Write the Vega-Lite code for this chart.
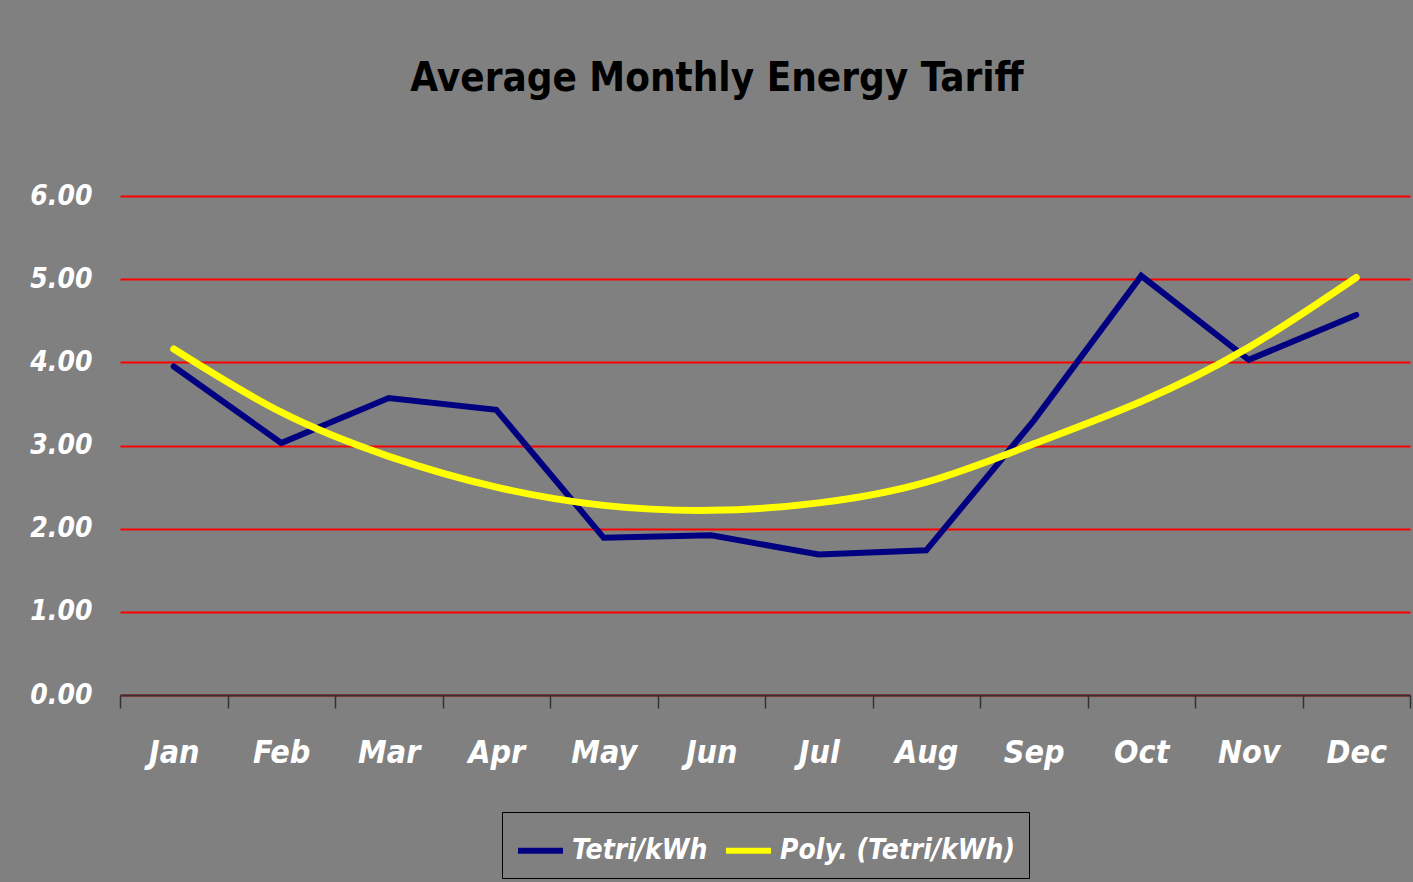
{
  "$schema": "https://vega.github.io/schema/vega-lite/v6.json",
  "width": 1290,
  "height": 499,
  "autosize": {"type": "none"},
  "padding": {"left": 120, "top": 196, "right": 3, "bottom": 187},
  "background": "#808080",
  "config": {
    "view": {"stroke": null},
    "font": "DejaVu Sans Condensed, Liberation Sans Narrow, sans-serif"
  },
  "title": {
    "text": "Average Monthly Energy Tariff",
    "font": "DejaVu Sans Condensed, Liberation Sans Narrow, sans-serif",
    "fontSize": 40,
    "fontWeight": "bold",
    "color": "#000000",
    "anchor": "middle",
    "dx": -48,
    "baseline": "alphabetic",
    "offset": 51
  },
  "data": {
    "values": [
      {"month": "Jan", "series": "Tetri/kWh", "value": 3.95},
      {"month": "Feb", "series": "Tetri/kWh", "value": 3.03},
      {"month": "Mar", "series": "Tetri/kWh", "value": 3.57},
      {"month": "Apr", "series": "Tetri/kWh", "value": 3.43},
      {"month": "May", "series": "Tetri/kWh", "value": 1.89},
      {"month": "Jun", "series": "Tetri/kWh", "value": 1.92},
      {"month": "Jul", "series": "Tetri/kWh", "value": 1.69},
      {"month": "Aug", "series": "Tetri/kWh", "value": 1.74},
      {"month": "Sep", "series": "Tetri/kWh", "value": 3.30},
      {"month": "Oct", "series": "Tetri/kWh", "value": 5.04},
      {"month": "Nov", "series": "Tetri/kWh", "value": 4.03},
      {"month": "Dec", "series": "Tetri/kWh", "value": 4.57},
      {"month": "Jan", "series": "Poly. (Tetri/kWh)", "value": 4.16},
      {"month": "Feb", "series": "Poly. (Tetri/kWh)", "value": 3.40},
      {"month": "Mar", "series": "Poly. (Tetri/kWh)", "value": 2.87},
      {"month": "Apr", "series": "Poly. (Tetri/kWh)", "value": 2.50},
      {"month": "May", "series": "Poly. (Tetri/kWh)", "value": 2.28},
      {"month": "Jun", "series": "Poly. (Tetri/kWh)", "value": 2.22},
      {"month": "Jul", "series": "Poly. (Tetri/kWh)", "value": 2.31},
      {"month": "Aug", "series": "Poly. (Tetri/kWh)", "value": 2.56},
      {"month": "Sep", "series": "Poly. (Tetri/kWh)", "value": 3.02},
      {"month": "Oct", "series": "Poly. (Tetri/kWh)", "value": 3.53},
      {"month": "Nov", "series": "Poly. (Tetri/kWh)", "value": 4.18},
      {"month": "Dec", "series": "Poly. (Tetri/kWh)", "value": 5.02}
    ]
  },
  "encoding": {
    "x": {
      "field": "month",
      "type": "ordinal",
      "sort": ["Jan", "Feb", "Mar", "Apr", "May", "Jun", "Jul", "Aug", "Sep", "Oct", "Nov", "Dec"],
      "scale": {"type": "band", "paddingInner": 0, "paddingOuter": 0},
      "bandPosition": 0.5,
      "axis": {
        "title": null,
        "labelAngle": 0,
        "tickBand": "extent",
        "domainColor": "#333333",
        "domainWidth": 2,
        "tickColor": "#333333",
        "tickWidth": 1.5,
        "tickSize": 13,
        "labelPadding": 29,
        "labelFont": "DejaVu Sans Condensed, Liberation Sans Narrow, sans-serif",
        "labelFontSize": 32,
        "labelFontWeight": "bold",
        "labelFontStyle": "italic",
        "labelColor": "#ffffff",
        "grid": false,
        "zindex": 1
      }
    },
    "y": {
      "field": "value",
      "type": "quantitative",
      "scale": {"domain": [0, 6], "nice": false},
      "axis": {
        "title": null,
        "values": [0, 1, 2, 3, 4, 5, 6],
        "format": ".2f",
        "domain": false,
        "ticks": false,
        "labelPadding": 28,
        "labelFont": "DejaVu Sans Condensed, Liberation Sans Narrow, sans-serif",
        "labelFontSize": 28,
        "labelFontWeight": "bold",
        "labelFontStyle": "italic",
        "labelColor": "#ffffff",
        "grid": true,
        "gridColor": "#ff0000",
        "gridWidth": 2,
        "gridOpacity": 1
      }
    },
    "color": {
      "field": "series",
      "type": "nominal",
      "scale": {
        "domain": ["Tetri/kWh", "Poly. (Tetri/kWh)"],
        "range": ["#000080", "#ffff00"]
      },
      "legend": {
        "title": null,
        "orient": "none",
        "legendX": 382,
        "legendY": 616,
        "direction": "horizontal",
        "strokeColor": "#000000",
        "fillColor": "#808080",
        "padding": 13,
        "symbolType": "stroke",
        "symbolSize": 2025,
        "symbolStrokeWidth": 6,
        "labelOffset": 6,
        "columnPadding": 6,
        "labelFont": "DejaVu Sans Condensed, Liberation Sans Narrow, sans-serif",
        "labelFontSize": 28,
        "labelFontWeight": "bold",
        "labelFontStyle": "italic",
        "labelColor": "#ffffff",
        "labelLimit": 400
      }
    }
  },
  "layer": [
    {
      "transform": [{"filter": "datum.series === 'Tetri/kWh'"}],
      "mark": {"type": "line", "strokeWidth": 6, "strokeCap": "round", "interpolate": "linear"}
    },
    {
      "transform": [{"filter": "datum.series === 'Poly. (Tetri/kWh)'"}],
      "mark": {"type": "line", "strokeWidth": 7, "strokeCap": "round", "interpolate": "natural"}
    }
  ]
}
